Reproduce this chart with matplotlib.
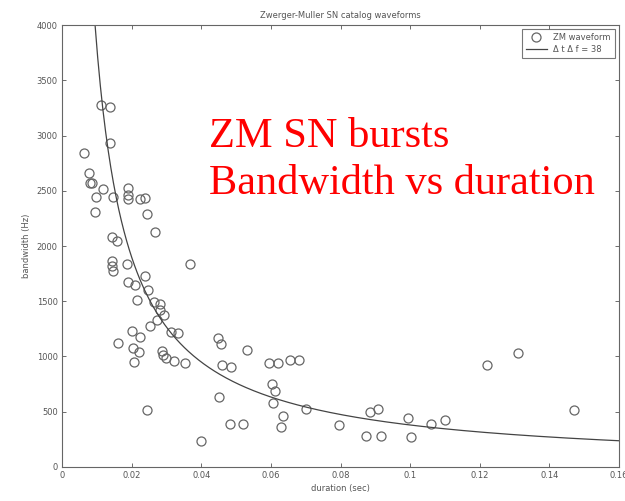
import matplotlib
matplotlib.use("Agg")
import matplotlib.pyplot as plt
import numpy as np

# durations (sec) and bandwidths (Hz)
duration = [0.0063, 0.0078, 0.0080, 0.0086, 0.0098, 0.0095, 0.0112, 0.0138, 0.0138, 0.0118,
            0.0147, 0.0190, 0.0190, 0.0190, 0.0224, 0.0238, 0.0244, 0.0144, 0.0158, 0.0144,
            0.0144, 0.0147, 0.0187, 0.0267, 0.0368, 0.0190, 0.0210, 0.0238, 0.0247, 0.0215,
            0.0264, 0.0282, 0.0282, 0.0293, 0.0273, 0.0253, 0.0201, 0.0224, 0.0161, 0.0204,
            0.0221, 0.0207, 0.0287, 0.0290, 0.0299, 0.0322, 0.0353, 0.0313, 0.0333, 0.0448,
            0.0457, 0.0460, 0.0531, 0.0485, 0.0451, 0.0399, 0.0483, 0.0520, 0.0244, 0.0595,
            0.0620, 0.0655, 0.0680, 0.0603, 0.0612, 0.0606, 0.0635, 0.0630, 0.0700, 0.0796,
            0.0873, 0.0916, 0.0885, 0.0908, 0.0994, 0.1003, 0.1060, 0.1100, 0.1220, 0.1310,
            0.1470]
bandwidth = [2842, 2661, 2570, 2570, 2443, 2308, 3276, 3258, 2932, 2516,
             2443, 2525, 2461, 2425, 2425, 2434, 2290, 2081, 2045, 1864,
             1819, 1774, 1837, 2127, 1837, 1674, 1647, 1728, 1602, 1511,
             1493, 1475, 1421, 1376, 1330, 1276, 1231, 1176, 1122, 1077,
             1041, 950, 1050, 1014, 986, 959, 941, 1222, 1213, 1167,
             1113, 923, 1059, 905, 633, 235, 389, 389, 516, 941,
             941, 968, 968, 751, 688, 579, 462, 362, 525, 380,
             281, 281, 498, 525, 443, 272, 389, 425, 923, 1032,
             516]
tf_product = 38

xticks = [0, 0.02, 0.04, 0.06, 0.08, 0.1, 0.12, 0.14, 0.16]
xticklabels = ['0', '0.02', '0.04', '0.06', '0.08', '0.1', '0.12', '0.14', '0.16']
yticks = [0, 500, 1000, 1500, 2000, 2500, 3000, 3500, 4000]

grey = '#555555'

fig = plt.figure(figsize=(6.25, 5.01), dpi=100)
ax = fig.add_axes([0.0992, 0.0679, 0.8912, 0.8821])

ax.plot(duration, bandwidth, 'o', mfc='none', mec='#666666', ms=6.5, mew=0.9,
        label='ZM waveform')
t = np.linspace(tf_product / 4000.0, 0.16, 400)
ax.plot(t, tf_product / t, '-', color='#444444', lw=0.9,
        label='\u0394 t \u0394 f = %d' % tf_product)

ax.set_xlim(0, 0.16)
ax.set_ylim(0, 4000)
ax.set_xticks(xticks)
ax.set_xticklabels(xticklabels)
ax.set_yticks(yticks)
ax.tick_params(direction='in', top=True, right=True, labelsize=6, colors=grey,
               length=3, width=0.6, pad=3)
for s in ax.spines.values():
    s.set_color('#666666')
    s.set_linewidth(0.8)

ax.set_xlabel('duration (sec)', fontsize=6, color=grey, labelpad=3)
ax.set_ylabel('bandwidth (Hz)', fontsize=6, color=grey, labelpad=4)
ax.set_title('Zwerger-Muller SN catalog waveforms', fontsize=6, color=grey, pad=5)

leg = ax.legend(loc='upper right', fontsize=6, frameon=True, fancybox=False,
                handlelength=2.5, borderpad=0.5, labelspacing=0.3)
leg.get_frame().set_edgecolor('#555555')
leg.get_frame().set_linewidth(0.8)
for txt in leg.get_texts():
    txt.set_color(grey)

fig.text(0.335, 0.612, 'ZM SN bursts\nBandwidth vs duration', color='red',
         fontsize=30.5, family='Liberation Serif', ha='left', va='baseline',
         linespacing=1.3)

plt.savefig('out.png', dpi=100)
